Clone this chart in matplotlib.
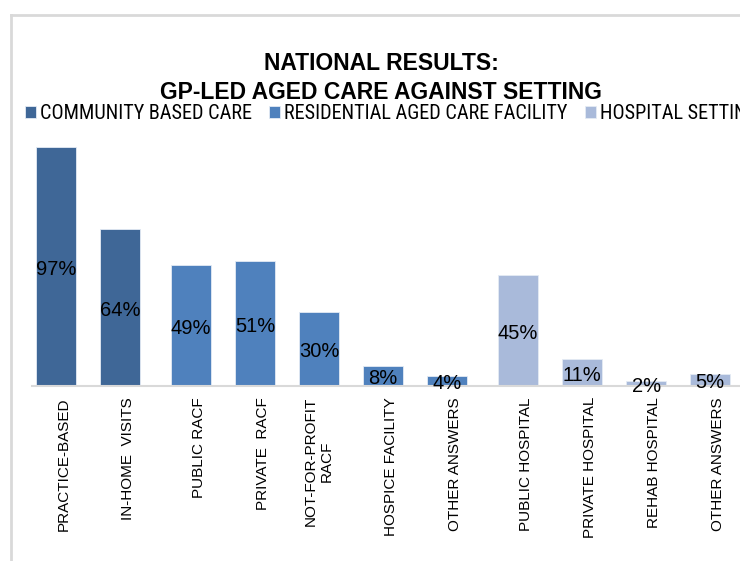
import matplotlib
matplotlib.use("Agg")
import matplotlib.pyplot as plt
import matplotlib.transforms as mtransforms
import numpy as np

# survey answers, percent of respondents
categories = ["PRACTICE-BASED", "IN-HOME  VISITS", "PUBLIC RACF", "PRIVATE  RACF",
              "NOT-FOR-PROFIT\nRACF", "HOSPICE FACILITY", "OTHER ANSWERS",
              "PUBLIC HOSPITAL", "PRIVATE HOSPITAL", "REHAB HOSPITAL", "OTHER ANSWERS"]
values = [97, 64, 49, 51, 30, 8, 4, 45, 11, 2, 5]
setting = [0, 0, 1, 1, 1, 1, 1, 2, 2, 2, 2]
setting_names = ["COMMUNITY BASED CARE", "RESIDENTIAL AGED CARE FACILITY", "HOSPITAL SETTING"]
setting_colors = ["#3F6797", "#4F81BD", "#A9BADA"]

narrow = ["Roboto Condensed", "Liberation Sans", "DejaVu Sans"]
plain = ["Liberation Sans", "DejaVu Sans"]

W, H = 740, 561
fig = plt.figure(figsize=(W / 100, H / 100), dpi=100)

# chart frame (left and top edges only show)
fig.add_artist(plt.Line2D([10.5 / W, 10.5 / W], [0, 1 - 14.5 / H],
                          color="#D9D9D9", lw=2, transform=fig.transFigure))
fig.add_artist(plt.Line2D([10.5 / W, 1], [1 - 14.5 / H, 1 - 14.5 / H],
                          color="#D9D9D9", lw=2, transform=fig.transFigure))

ax = fig.add_axes([32 / W, (H - 386) / H, 728 / W, 246 / H])

gap = 0.11
x = np.arange(len(values)) + np.array(setting) * gap
vals = np.array(values)
grp = np.array(setting)

for g, (name, col) in enumerate(zip(setting_names, setting_colors)):
    m = grp == g
    bars = ax.bar(x[m], vals[m], width=0.625, color=col, edgecolor="#E4EBF4",
                  linewidth=0.6, label=name)
    anns = ax.bar_label(bars, labels=["%d%%" % v for v in vals[m]], label_type="center",
                        fontsize=14.5, family=plain, color="black")
    for a in anns:
        a.xyann = (0, -2)

ax.set_xlim(-0.375, 11.0)
ax.set_ylim(0, 100)
ax.set_yticks([])
for s in ["top", "right", "left"]:
    ax.spines[s].set_visible(False)
ax.spines["bottom"].set_color("#D9D9D9")
ax.spines["bottom"].set_linewidth(1.5)

ax.set_xticks(x)
ax.set_xticklabels(categories, rotation=90, fontsize=11, family=plain,
                   multialignment="center")
ax.tick_params(axis="x", length=0, pad=8)
shift = mtransforms.ScaledTranslation(8 / 100, 0, fig.dpi_scale_trans)
for lab in ax.get_xticklabels():
    if "\n" not in lab.get_text():
        lab.set_transform(lab.get_transform() + shift)

fig.text(381 / W, 1 - 78 / H, "NATIONAL RESULTS:\nGP-LED AGED CARE AGAINST SETTING",
         ha="center", va="center", fontsize=16.5, fontweight="bold", family=plain,
         linespacing=1.3)

# legend runs off the right edge of the chart
fig.legend(loc="center left", bbox_to_anchor=(25 / W, 1 - 113.5 / H), ncol=3,
           frameon=False, prop={"family": narrow, "size": 14.6},
           handlelength=0.54, handleheight=0.54, handletextpad=0.2,
           columnspacing=0.85, borderaxespad=0, borderpad=0)

fig.savefig("out.png", dpi=100)
